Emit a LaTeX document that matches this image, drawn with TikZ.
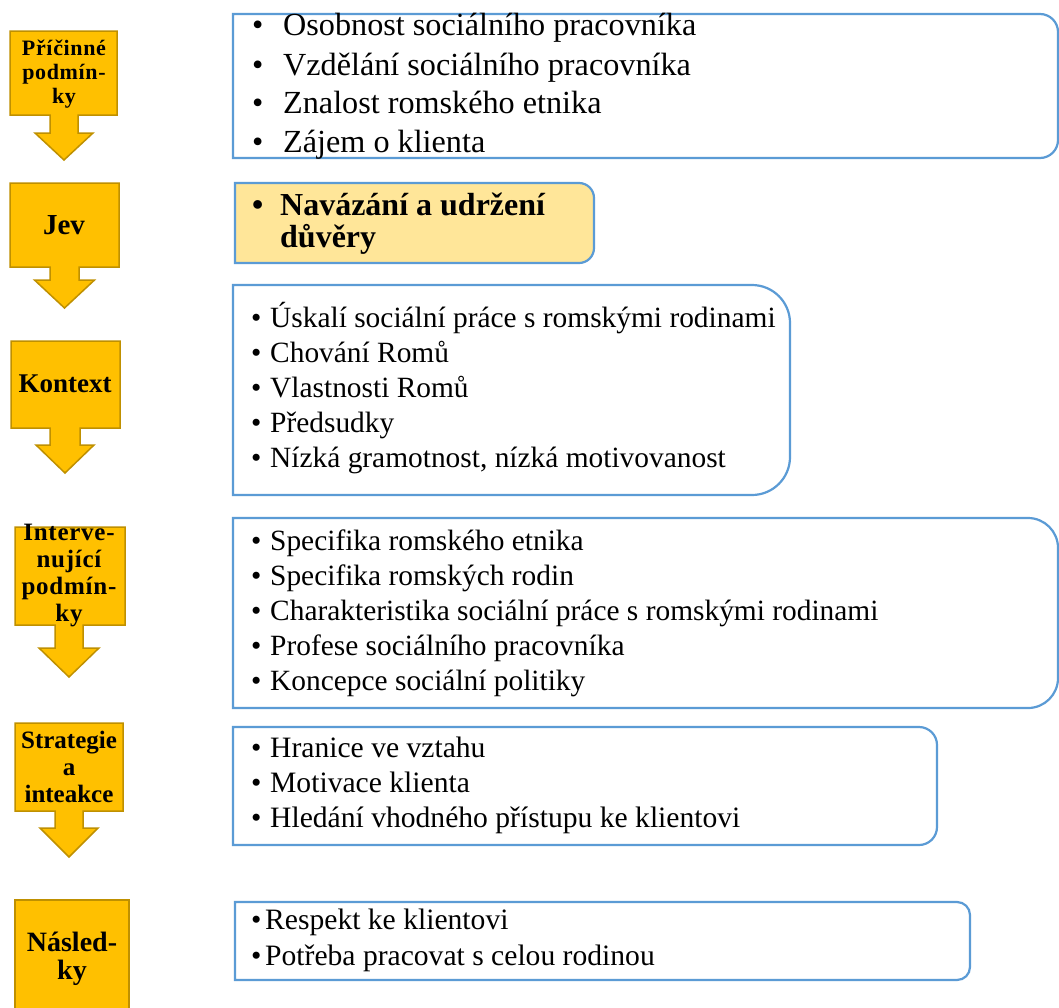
\documentclass[tikz,border=0pt]{standalone}
\usepackage{fontspec}
\setmainfont{Liberation Serif}
\definecolor{orfill}{HTML}{FFC000}
\definecolor{ordraw}{HTML}{BF9000}
\definecolor{bldraw}{HTML}{5B9BD5}
\definecolor{jevfill}{HTML}{FFE699}
\tikzset{
  orbox/.style={fill=orfill,draw=ordraw,line width=1.5pt,line join=miter},
  bbox/.style={fill=white,draw=bldraw,line width=2.2pt},
  olabel/.style={align=center,inner sep=0pt,text=black},
  item/.style={anchor=base west,inner sep=0pt,text=black},
}
% callout: x1 x2 ytop ybot shaftL shaftR headtop halfwidth tip
\newcommand\callout[9]{%
  \draw[orbox] (#1,-#3) -- (#2,-#3) -- (#2,-#4) -- (#6,-#4) -- (#6,-#7)
    -- ({(#5+#6)/2+#8},-#7) -- ({(#5+#6)/2},-#9) -- ({(#5+#6)/2-#8},-#7)
    -- (#5,-#7) -- (#5,-#4) -- (#1,-#4) -- cycle;}
% right-rounded box: [style] x1 ytop x2 ybot radius
\newcommand\rbox[6][]{%
  \draw[bbox,#1] (#2,-#3) -- ({#4-#6},-#3) arc[start angle=90,end angle=0,radius=#6pt]
    -- (#4,{-#5+#6}) arc[start angle=0,end angle=-90,radius=#6pt] -- (#2,-#5) -- cycle;}
\newcommand\bul[1]{\makebox[#1pt][l]{•}}
\begin{document}
\begin{tikzpicture}[x=1pt,y=1pt]
\useasboundingbox (0,0) rectangle (1059,-1007);
\clip (0,0) rectangle (1059,-1007);
\fill[white] (0,0) rectangle (1059,-1007);

% left callouts
\callout{10}{117}{31}{115}{50}{78}{133}{29}{160}
\callout{10}{119}{183}{267}{50}{79}{280}{30}{308}
\callout{11}{120}{341}{428}{50}{80}{445}{29}{473}
\callout{15}{125}{527}{625}{55}{83}{648}{30}{677}
\callout{15}{123}{723}{811}{55}{83}{828}{29}{857}
\draw[orbox] (15,-900) rectangle (129,-1030);

\node[olabel,font=\bfseries\fontsize{22}{24}\selectfont\addfontfeature{LetterSpace=3}] (l1) at (64,-74) {Příčinné\\podmín-\\ky};
\node[olabel,font=\bfseries\fontsize{29}{32}\selectfont] (l2) at (64,-225) {Jev};
\node[olabel,font=\bfseries\fontsize{27}{30}\selectfont] (l3) at (65,-384) {Kontext};
\node[olabel,font=\bfseries\fontsize{25}{27}\selectfont\addfontfeature{LetterSpace=3}] (l4) at (69,-576) {Interve-\\nující\\podmín-\\ky};
\node[olabel,font=\bfseries\fontsize{25}{27}\selectfont] (l5) at (69,-767) {Strategie\\a\\inteakce};
\node[olabel,font=\bfseries\fontsize{28}{28}\selectfont] (l6) at (72,-959) {Násled-\\ky};

% right boxes
\rbox{233}{14}{1058}{158}{18}
\rbox[fill=jevfill]{235}{183}{594}{263}{15}
\rbox{233}{285}{790}{495}{38}
\rbox{233}{518}{1058}{708}{30}
\rbox{233}{727}{937}{845}{18}
\rbox{235}{902}{970}{980}{13}

% box 1 items
\begin{scope}[every node/.append style={font=\fontsize{32.2}{38}\selectfont}]
\node[item] (a1) at (252,-35) {\bul{31}Osobnost sociálního pracovníka};
\node[item] (a2) at (252,-75) {\bul{31}Vzdělání sociálního pracovníka};
\node[item] (a3) at (252,-113) {\bul{31}Znalost romského etnika};
\node[item] (a4) at (252,-152) {\bul{31}Zájem o klienta};
\end{scope}

% box 2 items
\begin{scope}[every node/.append style={font=\bfseries\fontsize{32}{32}\selectfont}]
\node[item] (b1) at (252,-215) {\bul{28}Navázání a udržení};
\node[item] (b2) at (280,-247) {důvěry};
\end{scope}

% box 3 items
\begin{scope}[every node/.append style={font=\fontsize{29.4}{35}\selectfont}]
\node[item] (c1) at (251,-327) {\bul{19}Úskalí sociální práce s romskými rodinami};
\node[item] (c2) at (251,-362) {\bul{19}Chování Romů};
\node[item] (c3) at (251,-397) {\bul{19}Vlastnosti Romů};
\node[item] (c4) at (251,-432) {\bul{19}Předsudky};
\node[item] (c5) at (251,-467) {\bul{19}Nízká gramotnost, nízká motivovanost};
\end{scope}

% box 4 items
\begin{scope}[every node/.append style={font=\fontsize{29.4}{35}\selectfont}]
\node[item] (d1) at (251,-550) {\bul{19}Specifika romského etnika};
\node[item] (d2) at (251,-585) {\bul{19}Specifika romských rodin};
\node[item] (d3) at (251,-620) {\bul{19}Charakteristika sociální práce s romskými rodinami};
\node[item] (d4) at (251,-655) {\bul{19}Profese sociálního pracovníka};
\node[item] (d5) at (251,-690) {\bul{19}Koncepce sociální politiky};
\end{scope}

% box 5 items
\begin{scope}[every node/.append style={font=\fontsize{29.6}{35}\selectfont}]
\node[item] (e1) at (251,-757) {\bul{19}Hranice ve vztahu};
\node[item] (e2) at (251,-792) {\bul{19}Motivace klienta};
\node[item] (e3) at (251,-827) {\bul{19}Hledání vhodného přístupu ke klientovi};
\end{scope}

% box 6 items
\begin{scope}[every node/.append style={font=\fontsize{29.6}{35}\selectfont}]
\node[item] (f1) at (251,-929) {\bul{14}Respekt ke klientovi};
\node[item] (f2) at (251,-965) {\bul{14}Potřeba pracovat s celou rodinou};
\end{scope}
\end{tikzpicture}
\end{document}
